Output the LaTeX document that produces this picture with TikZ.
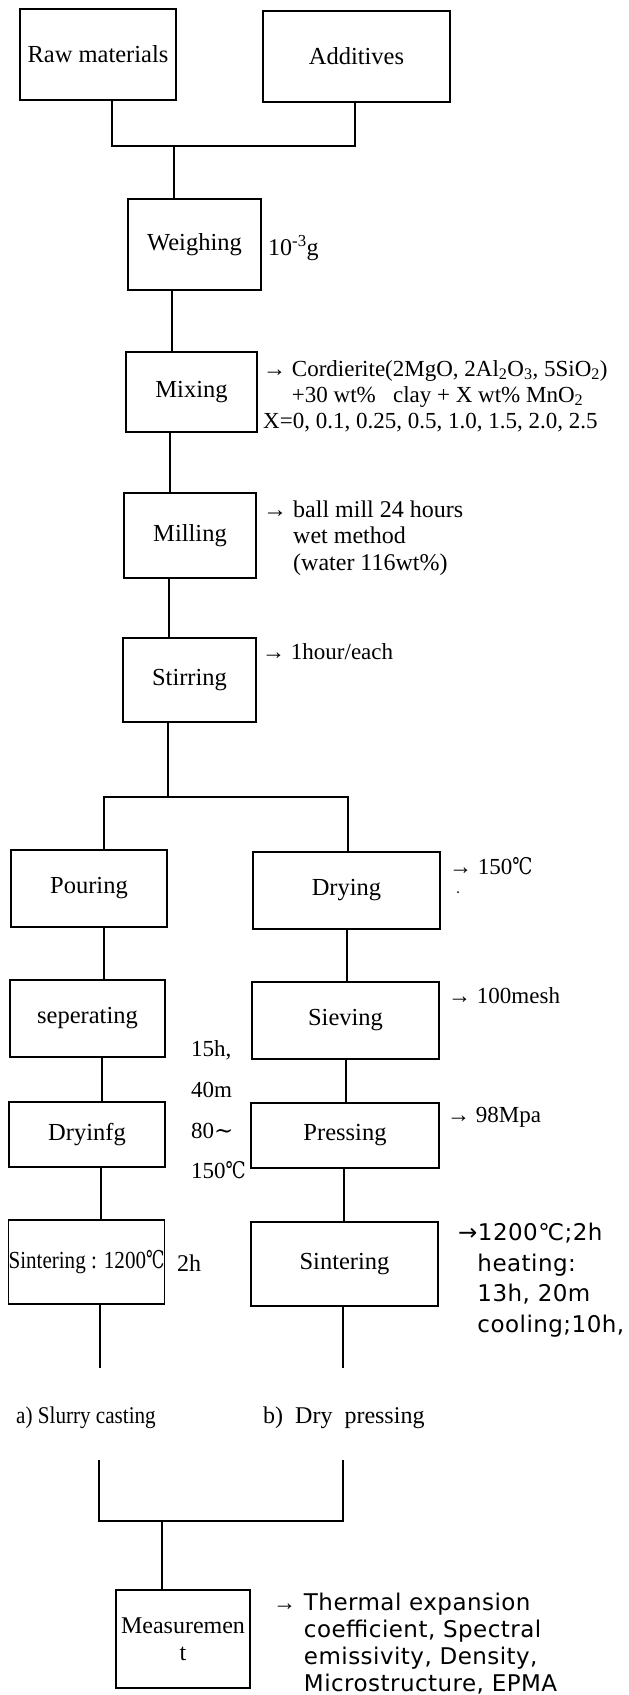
\documentclass[tikz,border=0pt]{standalone}
\usepackage{fontspec}
\setmainfont{Liberation Serif}
\newfontfamily\dvsans[LetterSpace=2]{DejaVu Sans}
\newfontfamily\dvserif{DejaVu Serif}
\newcommand\mydeg{{\dvserif\scalebox{0.78}[1]{℃}}}
\newcommand\mytilde{{\dvserif ∼}}
\tikzset{
  box/.style={draw, line width=1.1pt, inner sep=0pt, font=\fontsize{24.5}{28}\selectfont},
  note/.style={inner sep=0pt, anchor=west, align=left, font=\fontsize{23}{26}\selectfont},
  ln/.style={line width=1.1pt},
}
\begin{document}
\begin{tikzpicture}[x=1pt,y=-1pt]
\useasboundingbox (0,0) rectangle (629,1695);
% boxes
\node[box, minimum width=156pt, minimum height=91pt] (raw) at (98,54.5) {Raw\ materials};
\node[box, minimum width=187pt, minimum height=91pt] (add) at (356.5,56.5) {Additives};
\node[box, minimum width=133pt, minimum height=91pt] (weigh) at (194.5,244.5) {Weighing};
\node[box, minimum width=131pt, minimum height=80pt] (mix) at (191.5,392) {Mixing};
\node[box, minimum width=132pt, minimum height=85pt] (mill) at (190,535.5) {Milling};
\node[box, minimum width=133pt, minimum height=84pt] (stir) at (189.5,680) {Stirring};
\node[box, minimum width=156pt, minimum height=77pt] (pour) at (89,888.5) {Pouring};
\node[box, minimum width=187pt, minimum height=77pt] (dry) at (346.5,890.5) {Drying};
\node[box, minimum width=155pt, minimum height=77pt] (sep) at (87.5,1018.5) {seperating};
\node[box, minimum width=187pt, minimum height=77pt] (sieve) at (345.5,1020.5) {Sieving};
\node[box, minimum width=156pt, minimum height=65pt] (dryf) at (87,1134.5) {Dryinfg};
\node[box, minimum width=188pt, minimum height=65pt] (press) at (345,1135.5) {Pressing};
\node[box, minimum width=155pt, minimum height=84pt] (sintL) at (86.5,1262) {\scalebox{0.86}[1]{Sintering : 1200\mydeg}};
\node[box, minimum width=187pt, minimum height=84pt] (sintR) at (344.5,1264) {Sintering};
\node[box, minimum width=134pt, minimum height=98pt, align=center, font=\fontsize{24}{27}\selectfont] (meas) at (183,1639) {Measuremen\\t};
% connectors
\coordinate (jL) at (112,146); \coordinate (jR) at (355,146); \coordinate (jC) at (174,146);
\draw[ln] (raw.south -| jL) -- (jL) -- (jR) -- (add.south -| jR);
\draw[ln] (jC) -- (weigh.north -| jC);
\draw[ln] (weigh.south -| 172,0) -- (mix.north -| 172,0);
\draw[ln] (mix.south -| 170,0) -- (mill.north -| 170,0);
\draw[ln] (mill.south -| 169,0) -- (stir.north -| 169,0);
\coordinate (bC) at (168,797); \coordinate (bL) at (104,797); \coordinate (bR) at (348,797);
\draw[ln] (stir.south -| bC) -- (bC);
\draw[ln] (pour.north -| bL) -- (bL) -- (bR) -- (dry.north -| bR);
\draw[ln] (pour.south -| 104,0) -- (sep.north -| 104,0);
\draw[ln] (sep.south -| 102,0) -- (dryf.north -| 102,0);
\draw[ln] (dryf.south -| 101,0) -- (sintL.north -| 101,0);
\coordinate (eL) at (100,1368);
\draw[ln] (sintL.south -| eL) -- (eL);
\draw[ln] (dry.south -| 347,0) -- (sieve.north -| 347,0);
\draw[ln] (sieve.south -| 346,0) -- (press.north -| 346,0);
\draw[ln] (press.south -| 344,0) -- (sintR.north -| 344,0);
\coordinate (eR) at (343,1368);
\draw[ln] (sintR.south -| eR) -- (eR);
\coordinate (mL) at (99,1460); \coordinate (mR) at (343,1460); \coordinate (mC) at (162,1521);
\draw[ln] (mL) -- (mL |- mC) -- (mR |- mC) -- (mR);
\draw[ln] (mC) -- (meas.north -| mC);
% notes
\node[note, font=\fontsize{24}{28}\selectfont] (nw) at (268,248) {10\textsuperscript{-3}g};
\node[note, font=\fontsize{23}{26}\selectfont] (nmix) at (263,396) {→ Cordierite(2MgO,\ 2Al\textsubscript{2}O\textsubscript{3},\ 5SiO\textsubscript{2})\\\phantom{→ }+30\ wt\%\ \ \ clay\ +\ X\ wt\%\ MnO\textsubscript{2}\\X=0, 0.1, 0.25, 0.5, 1.0, 1.5, 2.0, 2.5};
\node[note, font=\fontsize{24}{26.5}\selectfont] (nmill) at (263,538) {→ ball\ mill\ 24\ hours\\\phantom{→ }wet\ method\\\phantom{→ }(water\ 116wt\%)};
\node[note] (nstir) at (262,652) {→ 1hour/each};
\node[note] (ndry) at (449,866) {→ 150\mydeg};
\fill (458,892) circle (1pt);
\node[note] (nsieve) at (448,996) {→ 100mesh};
\node[note] (npress) at (447,1117) {→ 98Mpa};
\node[note, font=\fontsize{23}{40.7}\selectfont] (ndr) at (191,1110) {15h,\\40m\\80\mytilde\\150\mydeg};
\node[note, font=\fontsize{24}{28}\selectfont] (n2h) at (177,1263) {2h};
\node[note, font=\dvsans\fontsize{23}{30.7}\selectfont] (nsint) at (458,1280) {→1200℃;2h\\\phantom{→}heating:\\\phantom{→}13h, 20m\\\phantom{→}cooling;10h,};
\node[note, font=\fontsize{24}{28}\selectfont] (la) at (16,1418) {\scalebox{0.88}[1]{a) Slurry casting}};
\node[note, font=\fontsize{24}{28}\selectfont] (lb) at (263,1418) {b)\ \ Dry\ \ pressing};
\node[note, font=\dvsans\fontsize{23}{27}\selectfont] (nmeas) at (273,1643.5) {{\rmfamily →}\ Thermal expansion\\\phantom{{\rmfamily →}\ }coefficient, Spectral\\\phantom{{\rmfamily →}\ }emissivity, Density,\\\phantom{{\rmfamily →}\ }Microstructure, EPMA};
\end{tikzpicture}
\end{document}
